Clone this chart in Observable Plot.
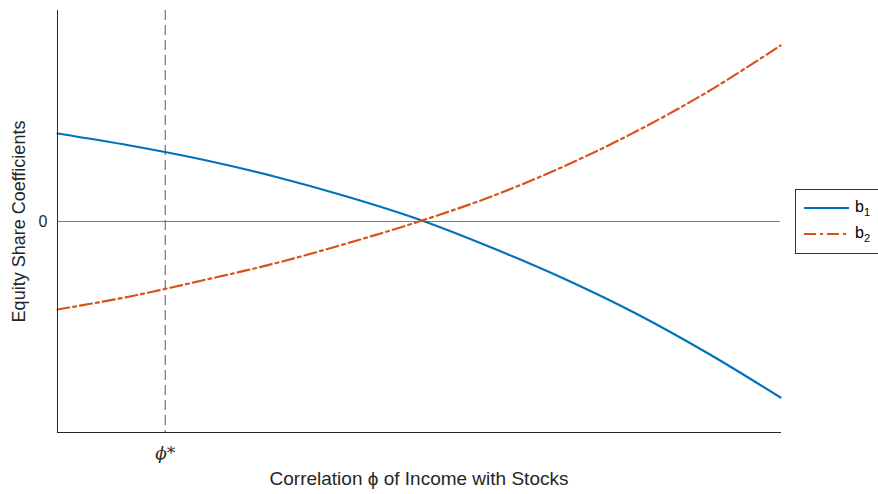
<!DOCTYPE html>
<html><head><meta charset="utf-8">
<script src="https://cdn.jsdelivr.net/npm/d3@7"></script>
<script src="https://cdn.jsdelivr.net/npm/@observablehq/plot@0.6"></script>
<style>
body{margin:0;font-family:"Liberation Sans",Arial,sans-serif;background:#fff}
#wrap{position:relative;width:878px;height:494px}
#legend{position:absolute;left:795px;top:189px;width:90px;height:63px;border:1px solid #333;background:#fff;font-size:16px}
.row{position:absolute;left:8px;height:20px;display:flex;align-items:center}
.row span{margin-left:6px}
</style></head><body>
<div id="wrap"><div id="chart"></div>
<div id="legend">
<div class="row" style="top:8px"><svg width="45" height="4"><line x1="0" x2="45" y1="2" y2="2" stroke="#0072BD" stroke-width="2.2"/></svg><span>b<sub style="font-size:11px">1</sub></span></div>
<div class="row" style="top:34px"><svg width="45" height="4"><line x1="0" x2="45" y1="2" y2="2" stroke="#D95319" stroke-width="2.2" stroke-dasharray="12,4,3,4"/></svg><span>b<sub style="font-size:11px">2</sub></span></div>
</div></div>
<script>
const phi = [0, 0.1, 0.2, 0.3, 0.4, 0.5, 0.6, 0.7, 0.8, 0.9, 1.0];
const b1 = [0.88, 0.76, 0.62, 0.45, 0.25, 0.02, -0.26, -0.57, -0.92, -1.32, -1.76];
const b2 = [-0.88, -0.75, -0.59, -0.42, -0.22, 0.0, 0.25, 0.55, 0.9, 1.3, 1.76];
const phiStar = 0.149;

const d1 = phi.map((x, i) => ({x, y: b1[i]}));
const d2 = phi.map((x, i) => ({x, y: b2[i]}));

const chart = Plot.plot({
  width: 878, height: 494,
  marginLeft: 57, marginRight: 98, marginTop: 10, marginBottom: 62,
  style: {fontFamily: "Liberation Sans, Arial, sans-serif", fontSize: "15px", color: "#262626"},
  x: {domain: [0, 1], axis: null},
  y: {domain: [-2.11, 2.11], axis: null},
  marks: [
    Plot.ruleY([0], {stroke: "#262626", strokeWidth: 0.6}),
    Plot.ruleX([phiStar], {stroke: "#555", strokeDasharray: "10,5", strokeWidth: 1}),
    Plot.line(d1, {x: "x", y: "y", curve: "catmull-rom", stroke: "#0072BD", strokeWidth: 2.2}),
    Plot.line(d2, {x: "x", y: "y", curve: "catmull-rom", stroke: "#D95319", strokeWidth: 2.2, strokeDasharray: "12,4,3,4"}),
    Plot.frame({anchor: "left", stroke: "#262626"}),
    Plot.frame({anchor: "bottom", stroke: "#262626"}),
    Plot.text(["0"], {x: 0, y: 0, dx: -10, textAnchor: "end", fontSize: 16}),
    Plot.text(["ϕ*"], {x: phiStar, y: -2.11, dy: 21, fontSize: 17, fontStyle: "italic", fontFamily: "DejaVu Serif"}),
    Plot.text(["Correlation ϕ of Income with Stocks"], {x: 0.5, y: -2.11, dy: 46, fontSize: 19}),
    Plot.text(["Equity Share Coefficients"], {x: 0, y: 0, dx: -38, rotate: -90, fontSize: 18})
  ]
});
document.getElementById("chart").append(chart);
</script></body></html>
